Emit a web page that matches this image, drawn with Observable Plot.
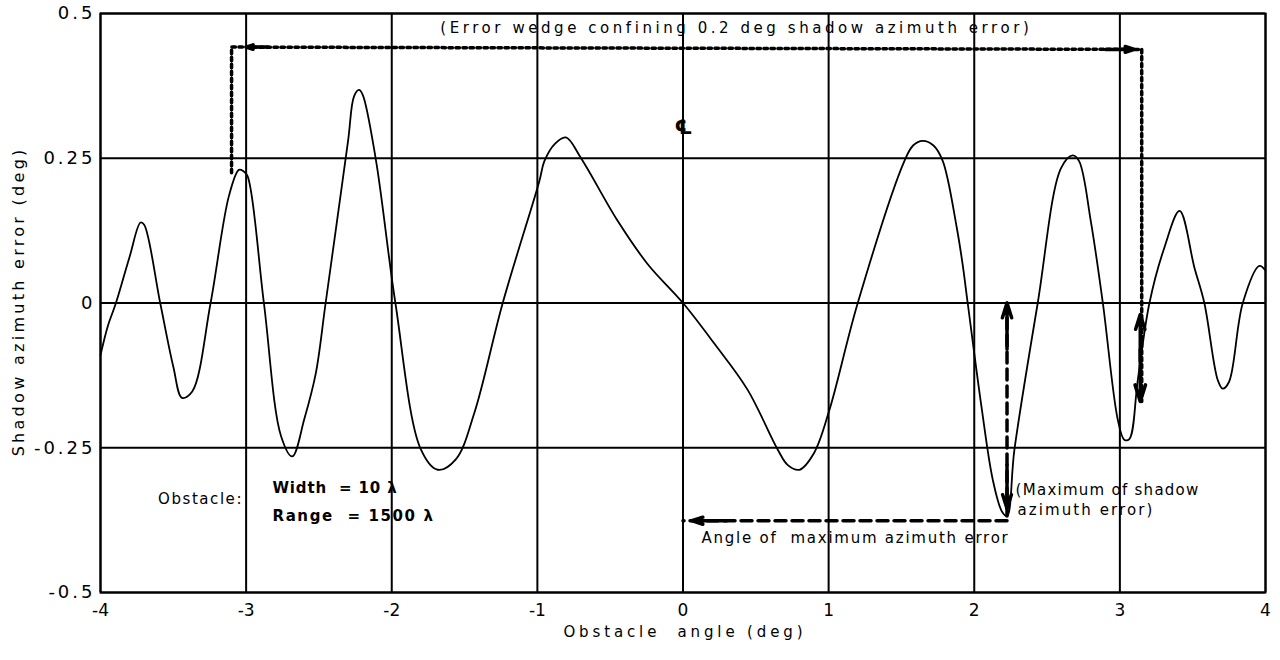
<!DOCTYPE html>
<html><head><meta charset="utf-8">
<script src="https://cdn.jsdelivr.net/npm/d3@7"></script>
<script src="https://cdn.jsdelivr.net/npm/@observablehq/plot@0.6"></script>
<style>
body{margin:0;background:#fff;}
#chart svg{display:block;}
</style>
</head><body><div id="chart"></div>
<script>
// ---- curve data ----
const angle = [-4.0,-3.95,-3.894,-3.80,-3.725,-3.70,-3.59,-3.50,-3.44,-3.37,-3.244,-3.118,-3.05,-3.02,-2.99,-2.878,-2.76,-2.683,-2.60,-2.522,-2.454,-2.30,-2.259,-2.225,-2.20,-2.11,-1.975,-1.80,-1.685,-1.56,-1.433,-1.238,-0.987,-0.952,-0.88,-0.804,-0.70,-0.449,-0.242,0.0,0.215,0.444,0.65,0.72,0.80,0.90,1.005,1.2,1.52,1.58,1.646,1.72,1.784,1.88,1.92,1.955,2.05,2.127,2.19,2.225,2.276,2.436,2.596,2.676,2.72,2.80,2.883,2.986,3.03,3.065,3.123,3.203,3.306,3.41,3.512,3.58,3.672,3.706,3.75,3.844,3.958,4.0];
const azError = [-0.09,-0.04,0,0.08,0.139,0.135,0,-0.11,-0.164,-0.153,0,0.185,0.23,0.228,0.219,0,-0.23,-0.265,-0.2,-0.122,0,0.28,0.357,0.368,0.36,0.249,0,-0.253,-0.288,-0.27,-0.19,0,0.21,0.245,0.275,0.286,0.25,0.142,0.067,0,-0.07,-0.15,-0.253,-0.28,-0.288,-0.259,-0.185,0,0.245,0.272,0.28,0.272,0.245,0.13,0.067,0,-0.18,-0.305,-0.36,-0.368,-0.253,0,0.233,0.255,0.245,0.142,0,-0.202,-0.236,-0.235,-0.133,0,0.096,0.159,0.061,0,-0.133,-0.148,-0.136,0,0.064,0.056];

// ---- axes ----
const xTicks = [-4,-3,-2,-1,0,1,2,3,4];
const xTickLabels = ["-4","-3","-2","-1","0","1","2","3","4"];
const yTicks = [-0.5,-0.25,0,0.25,0.5];
const yTickLabels = ["-0.5","-0.25","0","0.25","0.5"];
const xTitle = "Obstacle  angle (deg)";
const yTitle = "Shadow azimuth error (deg)";

// ---- annotation lines ----
const wedgeX = [-3.10,-3.10,3.15,3.15];
const wedgeY = [0.225,0.442,0.438,-0.17];
const dashVX = [2.225,2.225];
const dashVY = [-0.368,0.0];
const dashHX = [2.225,0.0];
const dashHY = [-0.376,-0.376];
// arrow heads (tail -> tip)
const arrX1 = [-2.85, 2.90, 3.14, 3.14, 2.225, 2.225, 0.30];
const arrY1 = [0.442, 0.438,-0.10,-0.08,-0.08,-0.28,-0.376];
const arrX2 = [-3.00, 3.10, 3.14, 3.14, 2.225, 2.225, 0.06];
const arrY2 = [0.442, 0.438,-0.02,-0.17, 0.0,-0.355,-0.376];

// ---- annotation texts ----
const noteText = ["(Error wedge confining 0.2 deg shadow azimuth error)","℄","Obstacle:","Width  = 10 λ","Range  = 1500 λ","(Maximum of shadow","azimuth error)","Angle of  maximum azimuth error"];
const noteX = [0.354, 0.003, -3.032, -2.819, -2.819, 2.284, 2.297, 0.127];
const noteY = [0.474, 0.303, -0.338, -0.319, -0.369, -0.324, -0.358, -0.407];
// widths the lettering spans in the reference (px)
const noteWidth = [592, null, 85, 125, 162, 184, 137, 308];
const xTitleWidth = 243, yTitleWidth = 310;

const font = "'DejaVu Sans', sans-serif";
const idx = (arr) => arr.map((_, i) => i);

const chart = Plot.plot({
  width: 1280, height: 660,
  marginLeft: 100, marginRight: 15, marginTop: 13, marginBottom: 68,
  x: {domain: [-4, 4]},
  y: {domain: [-0.5, 0.5]},
  style: {fontFamily: font, color: "black", background: "white"},
  marks: [
    Plot.ruleX(xTicks, {stroke: "black", strokeWidth: 2}),
    Plot.ruleY(yTicks, {stroke: "black", strokeWidth: 2}),
    Plot.frame({stroke: "black", strokeWidth: 2}),
    Plot.axisX({ticks: xTicks, tickSize: 0, tickPadding: 11, fontSize: 17, label: null,
      tickFormat: d => xTickLabels[xTicks.indexOf(d)]}),
    Plot.axisY({ticks: yTicks, tickSize: 0, tickPadding: 5, fontSize: 18, label: null,
      tickFormat: d => yTickLabels[yTicks.indexOf(d)]}),
    Plot.text([xTitle], {frameAnchor: "bottom", dy: 40, fontSize: 15, textAnchor: "middle", lineAnchor: "middle"}),
    Plot.text([yTitle], {frameAnchor: "left", dx: -82, rotate: -90, fontSize: 16, textAnchor: "middle", lineAnchor: "middle"}),
    // the curve
    Plot.line(idx(angle), {x: i => angle[i], y: i => azError[i], stroke: "black", strokeWidth: 1.8, curve: "catmull-rom"}),
    // dotted error wedge
    Plot.line(idx(wedgeX), {x: i => wedgeX[i], y: i => wedgeY[i], stroke: "black", strokeWidth: 3.5, strokeDasharray: "3.5,3.5"}),
    // dashed max-error lines
    Plot.line(idx(dashVX), {x: i => dashVX[i], y: i => dashVY[i], stroke: "black", strokeWidth: 3.5, strokeDasharray: "11,6"}),
    Plot.line(idx(dashHX), {x: i => dashHX[i], y: i => dashHY[i], stroke: "black", strokeWidth: 3.5, strokeDasharray: "11,6"}),
    Plot.arrow(idx(arrX1), {x1: i => arrX1[i], y1: i => arrY1[i], x2: i => arrX2[i], y2: i => arrY2[i],
      stroke: "black", strokeWidth: 3.5, headLength: 13, headAngle: 35}),
    // texts
    Plot.text([0], {x: i => noteX[i], y: i => noteY[i], text: i => noteText[i], fontSize: 15}),
    Plot.text([1], {x: i => noteX[i], y: i => noteY[i], text: i => noteText[i], fontSize: 20, fontWeight: "bold"}),
    Plot.text([2], {x: i => noteX[i], y: i => noteY[i], text: i => noteText[i], fontSize: 15, textAnchor: "end"}),
    Plot.text([3, 4], {x: i => noteX[i], y: i => noteY[i], text: i => noteText[i], fontSize: 15, fontWeight: "bold", textAnchor: "start"}),
    Plot.text([5, 6, 7], {x: i => noteX[i], y: i => noteY[i], text: i => noteText[i], fontSize: 15, textAnchor: "start"})
  ]
});
document.getElementById("chart").appendChild(chart);

// widen the lettering to the spans of the reference's stencil letters
const widths = new Map(noteText.map((t, i) => [t, noteWidth[i]]));
widths.set(xTitle, xTitleWidth);
widths.set(yTitle, yTitleWidth);
d3.select(chart).selectAll("text").each(function () {
  const t = this.textContent;
  const w = widths.get(t);
  if (!w) return;
  const L = this.getComputedTextLength();
  const ls = (w - L) / t.length;
  this.style.letterSpacing = ls + "px";
  const anchor = getComputedStyle(this).textAnchor || "start";
  // compensate the trailing spacing that letter-spacing adds
  const shift = anchor === "middle" ? ls / 2 : anchor === "end" ? ls : 0;
  if (shift) this.setAttribute("dx", shift);
});
// y tick labels are widely spaced too
d3.select(chart).selectAll('g[aria-label="y-axis tick label"] text').style("letter-spacing", "3px");
</script>
</body></html>
